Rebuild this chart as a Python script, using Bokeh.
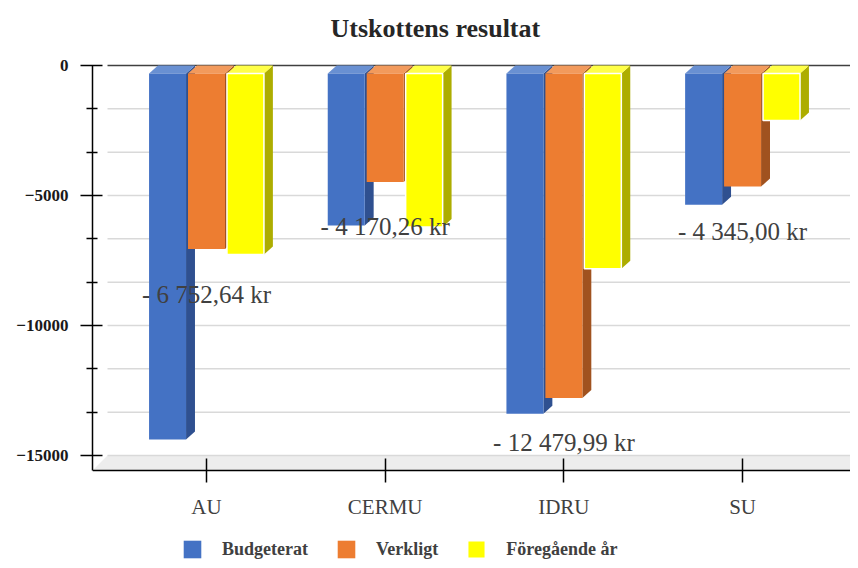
from bokeh.plotting import figure
from bokeh.models import Range1d, FixedTicker, Legend, LegendItem
from bokeh.core.properties import value
from bokeh.embed import file_html
from bokeh.resources import INLINE

# ---- data ----
CATEGORIES = ["AU", "CERMU", "IDRU", "SU"]
SERIES = ["Budgeterat", "Verkligt", "Föregående år"]
BUDGETERAT = [-14080, -5850, -13090, -5050]
VERKLIGT = [-6752.64, -4170.26, -12479.99, -4345.00]
FOREGAENDE = [-6960, -5900, -7510, -1810]
VALUE_LABELS = ["- 6 752,64 kr", "- 4 170,26 kr", "- 12 479,99 kr", "- 4 345,00 kr"]
Y_MAJOR = [0, -5000, -10000, -15000]
Y_MAJOR_LABELS = ["0", "\u22125000", "\u221210000", "\u221215000"]
Y_MINOR = [-1666.67, -3333.33, -6666.67, -8333.33, -11666.67, -13333.33]

# ---- style ----
FRONT = ["#4472C4", "#ED7D31", "#FFFF00"]
TOP = ["#6990D2", "#F29A5C", "#FFFF47"]
SIDE = ["#2F5090", "#A0521F", "#ADAD00"]
FONT = "Liberation Serif"

X0, X1 = -0.138, 4.104
Y0, Y1 = -19038.5, 269.2
Y_FLOOR = -15576.9
BAR_W = 0.207
PITCH = 0.218
DX = 0.05      # depth (x) in data units (~9 px)
DY = 307.7     # depth (y) in data units (~8 px)
WALL_X = -0.054

p = figure(width=850, height=560, output_backend="svg", toolbar_location=None,
           x_range=Range1d(X0, X1), y_range=Range1d(Y0, Y1),
           min_border_left=92, min_border_right=0, min_border_top=58,
           min_border_bottom=0)
p.outline_line_color = None
p.xgrid.visible = False
p.ygrid.visible = False

p.title.text = "Utskottens resultat"
p.title.align = "left"
p.title.offset = 238
p.title.vertical_align = "top"
p.title.standoff = 27
p.title.text_font = FONT
p.title.text_font_size = "26px"
p.title.text_font_style = "bold"
p.title.text_color = "#262626"

# floor
p.patch(x=[X0, X1, X1, WALL_X], y=[Y_FLOOR, Y_FLOOR, Y_MAJOR[-1], Y_MAJOR[-1]],
        fill_color="#EDEDED", line_color=None)
p.segment(x0=[WALL_X], x1=[X1], y0=[Y_MAJOR[-1]], y1=[Y_MAJOR[-1]],
          line_color="#D9D9D9", line_width=1.5)

# gridlines (back wall)
grid_vals = [t for t in Y_MAJOR + Y_MINOR if t not in (Y_MAJOR[0], Y_MAJOR[-1])]
p.segment(x0=[WALL_X] * len(grid_vals), x1=[X1] * len(grid_vals),
          y0=grid_vals, y1=grid_vals, line_color="#D9D9D9", line_width=1.5)
p.segment(x0=[WALL_X], x1=[X1], y0=[Y_MAJOR[0]], y1=[Y_MAJOR[0]],
          line_color="#404040", line_width=1.5)

# 3D bars
series_vals = [BUDGETERAT, VERKLIGT, FOREGAENDE]
front_renderers = []
for s, vals in enumerate(series_vals):
    off = (s - 1) * PITCH
    xl = [i + 0.5 + off - BAR_W / 2 for i in range(len(CATEGORIES))]
    xr = [x + BAR_W for x in xl]
    side_xs = [[r, r + DX, r + DX, r] for r in xr]
    side_ys = [[-DY, 0, v, v - DY] for v in vals]
    top_xs = [[l, r, r + DX, l + DX] for l, r in zip(xl, xr)]
    top_ys = [[-DY, -DY, 0, 0] for _ in vals]
    p.patches(xs=side_xs, ys=side_ys, fill_color=SIDE[s], line_color=None)
    p.patches(xs=top_xs, ys=top_ys, fill_color=TOP[s], line_color=None)
    r = p.quad(left=xl, right=xr, top=[-DY] * len(vals), bottom=[v - DY for v in vals],
               fill_color=FRONT[s],
               line_color="white" if s == 2 else None, line_width=1.5)
    front_renderers.append(r)

# data labels (Verkligt)
p.text(x=[i + 0.5 for i in range(len(CATEGORIES))], y=VERKLIGT, text=VALUE_LABELS,
       y_offset=53, text_align="center", text_baseline="middle",
       text_font=value(FONT), text_font_size="25px", text_color="#404040")

# axes
p.yaxis.ticker = FixedTicker(ticks=Y_MAJOR, minor_ticks=Y_MINOR)
p.yaxis.major_label_overrides = dict(zip(Y_MAJOR, Y_MAJOR_LABELS))
p.yaxis.bounds = (Y_FLOOR, 0)
p.yaxis.axis_line_color = "black"
p.yaxis.axis_line_width = 1.5
p.yaxis.major_tick_line_color = "black"
p.yaxis.major_tick_line_width = 1.5
p.yaxis.minor_tick_line_color = "black"
p.yaxis.minor_tick_line_width = 1.5
p.yaxis.major_tick_in = 10
p.yaxis.major_tick_out = 12
p.yaxis.minor_tick_in = 5
p.yaxis.minor_tick_out = 6
p.yaxis.major_label_standoff = 12
p.yaxis.major_label_text_font = FONT
p.yaxis.major_label_text_font_size = "17px"
p.yaxis.major_label_text_font_style = "bold"
p.yaxis.major_label_text_color = "#1a1a1a"

x_ticks = [i + 0.5 for i in range(len(CATEGORIES))]
p.xaxis.ticker = FixedTicker(ticks=x_ticks, minor_ticks=[])
p.xaxis.major_label_overrides = dict(zip(x_ticks, CATEGORIES))
p.xaxis.fixed_location = Y_FLOOR
p.xaxis.axis_line_color = "black"
p.xaxis.axis_line_width = 1.5
p.xaxis.major_tick_line_color = "black"
p.xaxis.major_tick_line_width = 1.5
p.xaxis.major_tick_in = 12
p.xaxis.major_tick_out = 12
p.xaxis.major_label_standoff = 13
p.xaxis.major_label_text_font = FONT
p.xaxis.major_label_text_font_size = "21px"
p.xaxis.major_label_text_color = "#404040"

legend = Legend(items=[LegendItem(label=SERIES[s], renderers=[front_renderers[s]])
                       for s in range(3)],
                orientation="horizontal", location=(89, 0))
legend.glyph_width = 22
legend.glyph_height = 22
legend.label_standoff = 19
legend.spacing = 27
legend.padding = 0
legend.margin = 0
legend.border_line_color = None
legend.background_fill_alpha = 0
legend.label_text_font = FONT
legend.label_text_font_size = "18px"
legend.label_text_font_style = "bold"
legend.label_text_color = "#404040"
p.add_layout(legend, "center")

open("out.html", "w").write(file_html(p, INLINE))
